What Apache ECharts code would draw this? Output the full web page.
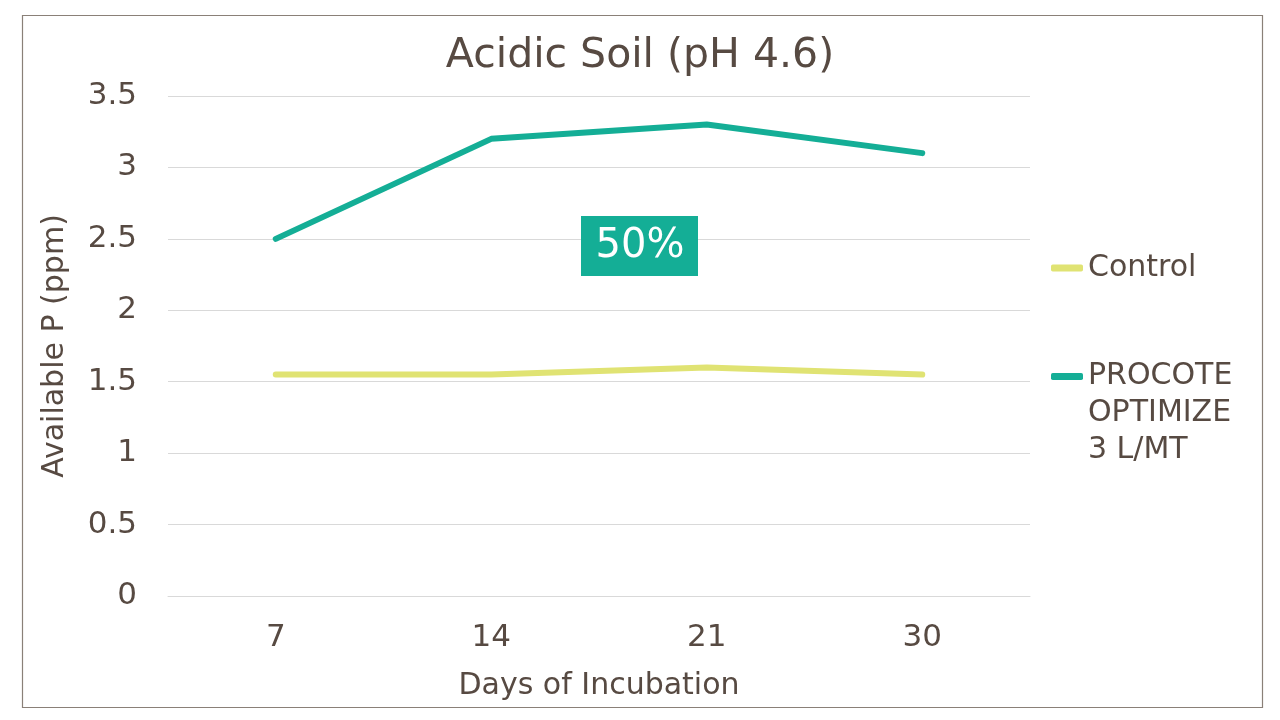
<!DOCTYPE html>
<html><head><meta charset="utf-8">
<script src="https://cdn.jsdelivr.net/npm/echarts@6/dist/echarts.min.js"></script>
<style>html,body{margin:0;padding:0;background:#fff}#c{width:1280px;height:720px}</style>
</head><body><div id="c"></div>
<script>
const categories = ['7', '14', '21', '30'];
const controlValues = [1.55, 1.55, 1.6, 1.55];
const procoteValues = [2.5, 3.2, 3.3, 3.1];
const seriesNames = ['Control', 'PROCOTE OPTIMIZE 3 L/MT'];
const yTicks = { min: 0, max: 3.5, interval: 0.5 };
const annotationText = '50%';

const textColor = '#574a42';
const font = 'DejaVu Sans';
const chart = echarts.init(document.getElementById('c'));
chart.setOption({
  animation: false,
  textStyle: { fontFamily: font, color: textColor },
  title: {
    text: 'Acidic Soil (pH 4.6)', left: 'center', top: 31,
    textStyle: { fontFamily: font, fontSize: 41, fontWeight: 'normal', color: textColor }
  },
  grid: { left: 168, right: 250, top: 96, bottom: 124 },
  legend: [{
    data: [seriesNames[0]], orient: 'vertical', left: 1051, top: 253, padding: 0,
    icon: 'roundRect', itemWidth: 32, itemHeight: 7,
    textStyle: { fontFamily: font, fontSize: 30, color: textColor }
  }, {
    data: [seriesNames[1]], orient: 'vertical', left: 1051, top: 284, padding: 0,
    icon: 'roundRect', itemWidth: 32, itemHeight: 7,
    formatter: () => '\n\nPROCOTE\nOPTIMIZE\n3 L/MT',
    textStyle: { fontFamily: font, fontSize: 30, lineHeight: 37, color: textColor }
  }],
  xAxis: {
    type: 'category', data: categories, boundaryGap: true,
    name: 'Days of Incubation', nameLocation: 'middle', nameGap: 75,
    nameTextStyle: { fontFamily: font, fontSize: 30, color: textColor },
    axisLine: { show: true, lineStyle: { color: '#d9d9d9', width: 1 } },
    axisTick: { show: false },
    axisLabel: { fontFamily: font, fontSize: 31, color: textColor, margin: 26 }
  },
  yAxis: {
    type: 'value', min: yTicks.min, max: yTicks.max, interval: yTicks.interval,
    name: 'Available P (ppm)', nameLocation: 'middle', nameGap: 98, nameRotate: 90,
    nameTextStyle: { fontFamily: font, fontSize: 30, color: textColor },
    axisLine: { show: false }, axisTick: { show: false },
    axisLabel: { fontFamily: font, fontSize: 31, color: textColor, margin: 31 },
    splitLine: { lineStyle: { color: '#d9d9d9', width: 1 } }
  },
  series: [{
    name: seriesNames[0], type: 'line', data: controlValues, showSymbol: false, symbol: 'none',
    lineStyle: { width: 6, color: '#e0e373', cap: 'round' }, itemStyle: { color: '#e0e373' }
  }, {
    name: seriesNames[1], type: 'line', data: procoteValues, showSymbol: false, symbol: 'none',
    lineStyle: { width: 6, color: '#14ae96', cap: 'round' }, itemStyle: { color: '#14ae96' }
  }],
  graphic: [{
    type: 'rect', left: 20, top: 13, z: -1,
    shape: { width: 1240, height: 692 },
    style: { fill: 'none', stroke: '#8a8078', lineWidth: 1.2 }
  }, {
    type: 'rect', z: 10,
    shape: { x: 581, y: 216, width: 117, height: 60 },
    style: { fill: '#14ae96' }
  }, {
    type: 'text', z: 11, x: 640, y: 247,
    style: {
      text: annotationText, fill: '#ffffff',
      fontFamily: font, fontSize: 40, align: 'center', verticalAlign: 'middle'
    }
  }]
});
</script></body></html>
